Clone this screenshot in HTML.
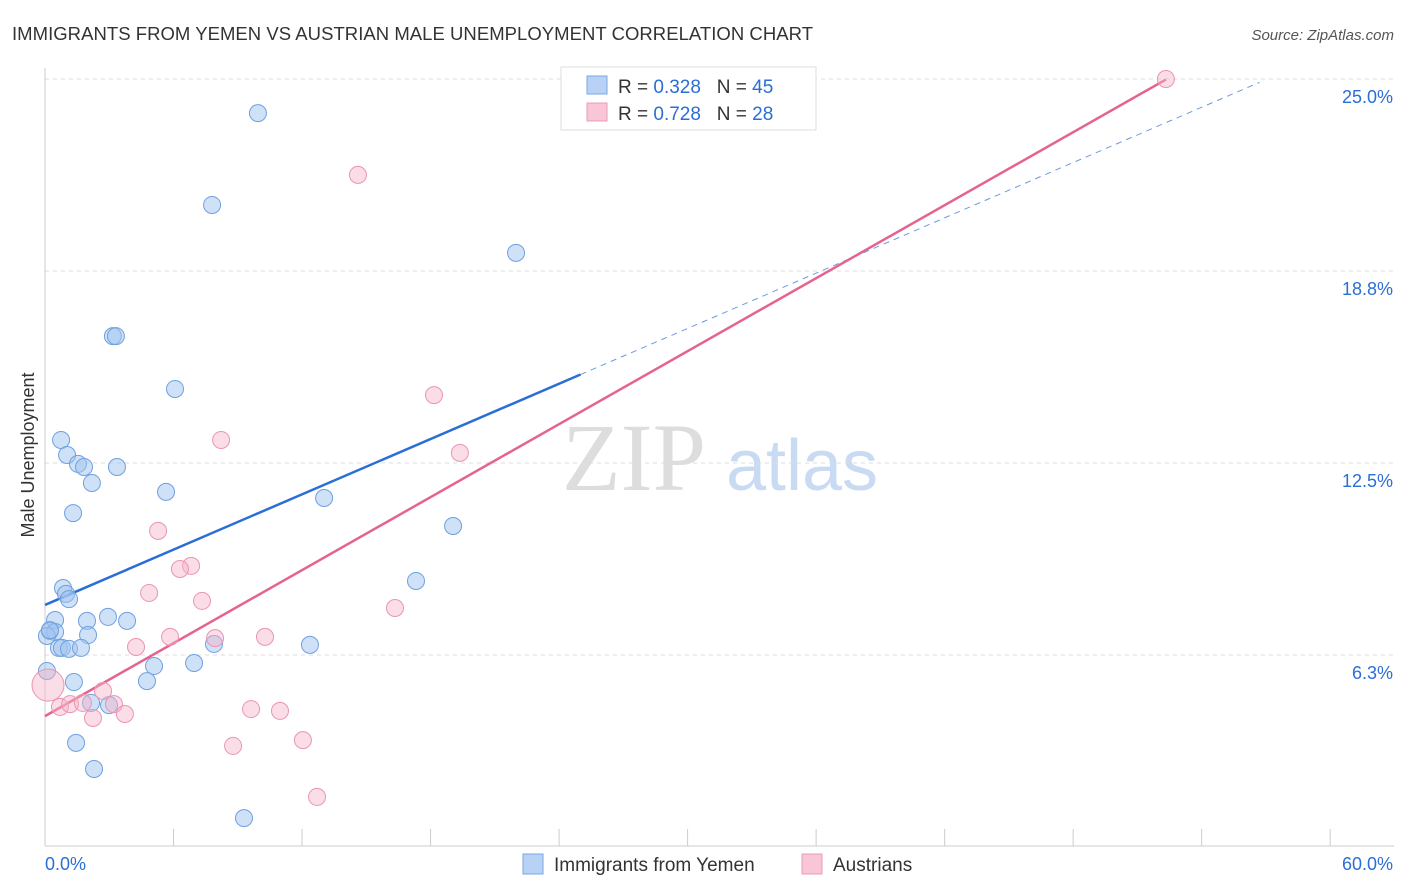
<!DOCTYPE html>
<html><head><meta charset="utf-8"><style>
body{margin:0;background:#fff;font-family:"Liberation Sans",sans-serif;}
svg{display:block}
</style></head><body>
<svg id="chart" width="1406" height="892" viewBox="0 0 1406 892">
<text x="12" y="40" font-size="18.5" fill="#333" textLength="801">IMMIGRANTS FROM YEMEN VS AUSTRIAN MALE UNEMPLOYMENT CORRELATION CHART</text>
<text x="1394" y="40" font-size="15" fill="#555" font-style="italic" text-anchor="end">Source: ZipAtlas.com</text>
<g>
<text x="634" y="490" font-size="96" fill="#ddd" font-family="Liberation Serif,serif" text-anchor="middle">ZIP</text>
<text x="802" y="490" font-size="72" fill="#c9dbf3" text-anchor="middle">atlas</text>
</g>
<g id="grid"></g><g id="axes"></g><g id="trends"></g><g id="points"></g>
<g>
<rect x="561" y="67" width="255" height="63" fill="#fff" stroke="#ddd"/>
<rect x="587" y="76" width="20" height="18" fill="#b7d2f5" stroke="#7aa8e4"/>
<text x="618" y="93" font-size="19" fill="#333" xml:space="preserve">R = <tspan fill="#2a6ed6">0.328</tspan>   N = <tspan fill="#2a6ed6">45</tspan></text>
<rect x="587" y="103" width="20" height="18" fill="#f9c6d5" stroke="#ec9bb6"/>
<text x="618" y="120" font-size="19" fill="#333" xml:space="preserve">R = <tspan fill="#2a6ed6">0.728</tspan>   N = <tspan fill="#2a6ed6">28</tspan></text>
</g>
<g>
<rect x="523" y="854" width="20" height="20" fill="#b7d2f5" stroke="#7aa8e4"/>
<text x="554" y="871" font-size="19" fill="#333">Immigrants from Yemen</text>
<rect x="802" y="854" width="20" height="20" fill="#f9c6d5" stroke="#ec9bb6"/>
<text x="833" y="871" font-size="19" fill="#333">Austrians</text>
</g>
<text transform="translate(34,455) rotate(-90)" font-size="18" fill="#333" text-anchor="middle">Male Unemployment</text>
</svg>
<script>
const blueX=[9.94,7.80,21.99,3.17,3.31,6.07,0.75,1.03,1.54,1.82,3.36,2.19,5.65,1.31,13.03,19.05,17.32,0.84,0.98,1.12,0.47,1.96,2.94,3.83,0.23,0.47,0.09,2.01,0.65,0.79,1.12,1.68,7.89,12.37,0.09,5.09,6.96,1.35,4.76,2.15,2.99,1.45,2.29,9.29,0.23];
const blueY=[23.89,20.90,19.34,16.63,16.63,14.91,13.25,12.76,12.47,12.37,12.37,11.85,11.56,10.87,11.36,10.45,8.66,8.43,8.24,8.07,7.39,7.36,7.49,7.36,7.03,7.00,6.87,6.90,6.48,6.48,6.45,6.48,6.61,6.58,5.73,5.89,5.99,5.37,5.40,4.69,4.62,3.39,2.54,0.94,7.06];
const pinkX=[52.33,14.61,18.16,8.22,19.37,5.28,6.82,6.30,4.86,7.33,16.34,5.84,7.94,10.27,4.25,0.14,2.71,0.70,1.17,1.77,3.22,3.73,2.24,9.62,10.97,8.78,12.04,12.70];
const pinkY=[25.0,21.88,14.71,13.25,12.83,10.29,9.15,9.05,8.27,8.01,7.78,6.84,6.80,6.84,6.51,5.27,5.08,4.56,4.65,4.69,4.65,4.33,4.20,4.49,4.43,3.29,3.48,1.63];
const pinkR=[8.5,8.5,8.5,8.5,8.5,8.5,8.5,8.5,8.5,8.5,8.5,8.5,8.5,8.5,8.5,16,8.5,8.5,8.5,8.5,8.5,8.5,8.5,8.5,8.5,8.5,8.5,8.5];
const yTicks=[6.3,12.5,18.8,25.0];
const yTickVals=[6.25,12.5,18.75,25.0];
const xTicks=[0,6,12,18,24,30,36,42,48,54,60];
const blueTrend=[7.88,0.30]; const blueSolidEnd=25.0; const blueDashEnd=56.7;
const pinkTrend=[4.26,0.396]; const pinkEnd=52.33;
const X=v=>45+v*21.42, Y=v=>847-v*30.72;
const NS="http://www.w3.org/2000/svg";
function mk(tag,attrs,parent){const e=document.createElementNS(NS,tag);for(const k in attrs)e.setAttribute(k,attrs[k]);document.getElementById(parent).appendChild(e);return e;}
yTickVals.forEach((v,i)=>{
 const l=mk('line',{x1:45,x2:1394,y1:Y(v),y2:Y(v),stroke:'#ddd','stroke-dasharray':'4,4'},'grid');
 
 
 const t=mk('text',{x:1393,y:Y(v)+24,'font-size':18,fill:'#2a6ed6','text-anchor':'end'},'grid');
 t.textContent=yTicks[i].toFixed(1)+'%';
 
 
});
let ax=mk('line',{x1:45,x2:45,y1:68,y2:846,stroke:'#ccc'},'axes');


ax=mk('line',{x1:45,x2:1394,y1:846,y2:846,stroke:'#ccc'},'axes');


xTicks.forEach(v=>{
 const l=mk('line',{x1:X(v),x2:X(v),y1:829,y2:846,stroke:'#ccc'},'axes');
 
 
});
[[0,'start',45],[60,'end',1393]].forEach(([v,a,x])=>{
 const t=mk('text',{x:x,y:870,'font-size':18,fill:'#2a6ed6','text-anchor':a},'axes');
 t.textContent=v.toFixed(1)+'%';
 
 
});
let tl=mk('line',{x1:X(0),y1:Y(blueTrend[0]),x2:X(blueSolidEnd),y2:Y(blueTrend[0]+blueTrend[1]*blueSolidEnd),stroke:'#2a6ed6','stroke-width':2.5},'trends');


tl=mk('line',{x1:X(blueSolidEnd),y1:Y(blueTrend[0]+blueTrend[1]*blueSolidEnd),x2:X(blueDashEnd),y2:Y(blueTrend[0]+blueTrend[1]*blueDashEnd),stroke:'#6b9be0','stroke-width':1,'stroke-dasharray':'6,5'},'trends');


tl=mk('line',{x1:X(0),y1:Y(pinkTrend[0]),x2:X(pinkEnd),y2:Y(pinkTrend[0]+pinkTrend[1]*pinkEnd),stroke:'#e4648e','stroke-width':2.5},'trends');


blueX.forEach((v,i)=>{
 const c=mk('circle',{cx:X(v),cy:Y(blueY[i]),r:8.5,fill:'rgba(160,195,240,0.5)',stroke:'#6fa0e0','stroke-width':1},'points');
 
 
});
pinkX.forEach((v,i)=>{
 const c=mk('circle',{cx:X(v),cy:Y(pinkY[i]),r:pinkR[i],fill:'rgba(245,180,200,0.45)',stroke:'#ea95b2','stroke-width':1},'points');
 
 
});
</script>
</body></html>
